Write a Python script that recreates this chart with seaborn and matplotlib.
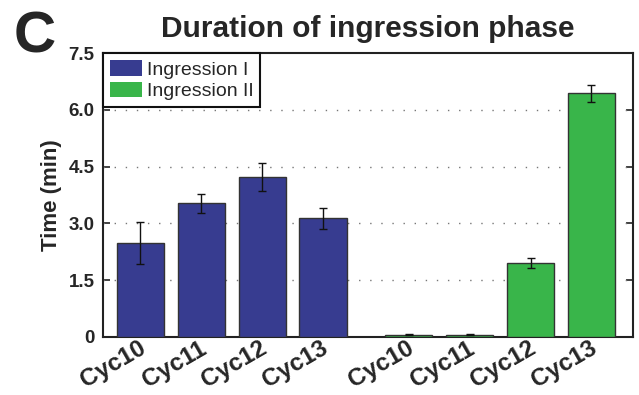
import matplotlib
matplotlib.use("Agg")
import matplotlib.pyplot as plt
import matplotlib.transforms as mtransforms
from matplotlib.patches import Patch
import seaborn as sns
import pandas as pd

# ---- data ----
cycles = ["Cyc10", "Cyc11", "Cyc12", "Cyc13"]
phases = ["Ingression I", "Ingression II"]
ingression1 = [2.48, 3.53, 4.22, 3.13]
ingression1_err = [0.55, 0.25, 0.37, 0.28]
ingression2 = [0.05, 0.05, 1.95, 6.44]
ingression2_err = [0.01, 0.01, 0.14, 0.22]
yticks = [0, 1.5, 3.0, 4.5, 6.0, 7.5]
ytick_labels = ["0", "1.5", "3.0", "4.5", "6.0", "7.5"]

# layout positions (group 2 shifted by a gap)
pos1 = [0, 1, 2, 3]
pos2 = [4.4, 5.4, 6.4, 7.4]

df = pd.DataFrame({
    "pos": pos1 + pos2,
    "time": ingression1 + ingression2,
    "err": ingression1_err + ingression2_err,
    "phase": [phases[0]] * 4 + [phases[1]] * 4,
    "label": cycles + cycles,
})

sns.set_style("white")
plt.rcParams["font.family"] = ["Liberation Sans", "DejaVu Sans"]

colors = {"Ingression I": "#373C90", "Ingression II": "#39B54A"}

fig = plt.figure(figsize=(6.39, 3.95), dpi=100)
ax = fig.add_axes([0.161, 0.1476, 0.830, 0.7174])

sns.barplot(data=df, x="pos", y="time", hue="phase", native_scale=True,
            dodge=False, width=0.78, palette=colors, saturation=1,
            edgecolor="#333333", linewidth=1.0, legend=False, errorbar=None,
            ax=ax, zorder=3)

ax.errorbar(df["pos"], df["time"], yerr=df["err"], fmt="none",
            ecolor="#111111", elinewidth=1.0, capsize=3, capthick=1.0, zorder=4)

ax.set_xlim(-0.615, 8.085)
ax.set_ylim(0, 7.5)
ax.tick_params(axis="x", length=0, pad=0)
ax.tick_params(axis="y", direction="in", length=5, width=1.2, left=True,
               right=True, pad=6, color="#222222")
ax.set_yticks(yticks)
ax.set_yticklabels(ytick_labels, fontsize=13.5, fontweight="bold")
ax.set_xticks(df["pos"])
ax.set_xticklabels(df["label"], fontsize=17.5, fontweight="bold",
                   rotation=30, ha="right", rotation_mode="default")
offset = mtransforms.ScaledTranslation(9 / 100, 0, fig.dpi_scale_trans)
for lbl in ax.get_xticklabels():
    lbl.set_transform(lbl.get_transform() + offset)

for y in [1.5, 3.0, 4.5, 6.0]:
    ax.axhline(y, color="#777777", linestyle=(0, (1, 7)), linewidth=1.0, zorder=1)

for s in ax.spines.values():
    s.set_linewidth(1.5)
    s.set_color("#222222")

ax.set_xlabel("")
ax.set_ylabel("Time (min)", fontsize=16, fontweight="bold", labelpad=5)
ax.set_title("Duration of ingression phase", fontsize=21.5, fontweight="bold", pad=12)

handles = [Patch(facecolor=colors[p], edgecolor="none", label=p) for p in phases]
leg = ax.legend(handles=handles, loc="upper left", borderaxespad=0,
                fancybox=False, edgecolor="#111111", framealpha=1,
                prop={"size": 14}, handlelength=1.65, handleheight=0.85,
                handletextpad=0.25, labelspacing=0.15, borderpad=0.35)
leg.get_frame().set_linewidth(1.5)
leg.set_zorder(5)

fig.text(0.022, 0.866, "C", fontsize=42, fontweight="bold", ha="left", va="baseline")

fig.savefig("out.png", dpi=100)
